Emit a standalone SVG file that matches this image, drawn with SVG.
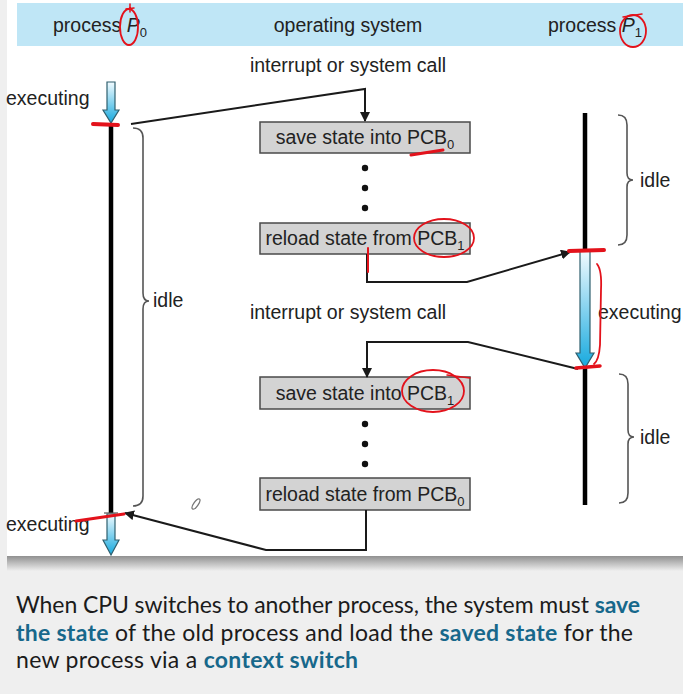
<svg xmlns="http://www.w3.org/2000/svg" width="683" height="694" viewBox="0 0 683 694">
  <style>
    .lbl { font-family: "Liberation Sans", Arial, sans-serif; font-size: 19.5px; fill: #222; }
    .sub { font-size: 13px; }
    .box rect { fill: #d3d3d3; stroke: #4a4a4a; stroke-width: 1.5; }
    .conn { fill: none; stroke: #1a1a1a; stroke-width: 2; }
    .brace { fill: none; stroke: #555; stroke-width: 1.6; }
    .timeline { stroke: #000; stroke-width: 4.5; }
    .run { fill: url(#runGrad); stroke: #2f5f6e; stroke-width: 1.2; }
    .dot { fill: #111; }
    .ink { fill: none; stroke: #e3121b; stroke-linecap: round; stroke-linejoin: round; }
    .cap { font-family: Lato, "Open Sans", sans-serif; font-size: 23px; fill: #1b1b1b; }
    .hl { fill: #17688b; font-weight: bold; }
  </style>
  <defs>
    <linearGradient id="runGrad" x1="0" y1="0" x2="0" y2="1">
      <stop offset="0" stop-color="#f2fbff"/>
      <stop offset="1" stop-color="#16a9de"/>
    </linearGradient>
    <linearGradient id="shadow" x1="0" y1="0" x2="0" y2="1">
      <stop offset="0" stop-color="#8a8a8a"/>
      <stop offset="1" stop-color="#efefef"/>
    </linearGradient>
    <marker id="head" viewBox="0 0 10 10" refX="9" refY="5" markerWidth="10" markerHeight="10" markerUnits="userSpaceOnUse" orient="auto">
      <path d="M0,0 L10,5 L0,10 Z" fill="#1a1a1a"/>
    </marker>
  </defs>

  <!-- page and panel -->
  <rect x="0" y="0" width="683" height="694" fill="#efefef"/>
  <rect x="7" y="555" width="676" height="16" fill="url(#shadow)"/>
  <rect x="7" y="0" width="676" height="556" fill="#ffffff"/>
  <rect x="17" y="3" width="666" height="43" fill="#bfe6f6"/>

  <!-- column headings -->
  <g id="head-p0"><text class="lbl" x="53" y="32">process <tspan font-style="italic">P</tspan><tspan class="sub" dy="5">0</tspan></text></g>
  <g id="head-os"><text class="lbl" x="348" y="32" text-anchor="middle">operating system</text></g>
  <g id="head-p1"><text class="lbl" x="548" y="32">process <tspan font-style="italic">P</tspan><tspan class="sub" dy="5">1</tspan></text></g>

  <!-- process P0 timeline -->
  <g id="p0">
    <line class="timeline" x1="111" y1="123" x2="111" y2="513"/>
    <path class="run" d="M107,82 L115,82 L115,110 L119,110 L111,123 L103,110 L107,110 Z"/>
    <path class="run" d="M107,514 L115,514 L115,540 L119,540 L111,555 L103,540 L107,540 Z"/>
    <line x1="104" y1="513" x2="118" y2="513" stroke="#555" stroke-width="1.2"/>
    <text class="lbl" x="6" y="105">executing</text>
    <text class="lbl" x="6" y="531">executing</text>
    <path class="brace" d="M133,128 Q143,128 143,138 L143,293 Q143,301 149,301 Q143,301 143,309 L143,496 Q143,506 133,506"/>
    <text class="lbl" x="153" y="307">idle</text>
  </g>

  <!-- process P1 timeline -->
  <g id="p1">
    <line class="timeline" x1="585" y1="113" x2="585" y2="251"/>
    <line class="timeline" x1="585" y1="368" x2="585" y2="505"/>
    <path class="run" d="M580,251 L590,251 L590,353 L594,353 L585,368 L576,353 L580,353 Z"/>
    <path class="brace" d="M618,115 Q627,115 627,125 L627,173 Q627,180 633,180 Q627,180 627,187 L627,235 Q627,245 618,245"/>
    <text class="lbl" x="640" y="187">idle</text>
    <text class="lbl" x="598" y="319">executing</text>
    <path class="brace" d="M619,374 Q628,374 628,384 L628,430 Q628,437 634,437 Q628,437 628,444 L628,493 Q628,503 619,503"/>
    <text class="lbl" x="640" y="444">idle</text>
  </g>

  <!-- operating system steps -->
  <g id="os-call-1"><text class="lbl" x="348" y="72" text-anchor="middle">interrupt or system call</text></g>
  <g id="save-pcb0" class="box">
    <rect x="260" y="122" width="210" height="31"/>
    <text class="lbl" x="365" y="144" text-anchor="middle">save state into PCB<tspan class="sub" dy="5">0</tspan></text>
  </g>
  <g id="dots-1">
    <circle class="dot" cx="365" cy="168" r="3.2"/>
    <circle class="dot" cx="365" cy="188" r="3.2"/>
    <circle class="dot" cx="365" cy="208" r="3.2"/>
  </g>
  <g id="reload-pcb1" class="box">
    <rect x="260" y="223" width="210" height="31"/>
    <text class="lbl" x="365" y="245" text-anchor="middle">reload state from PCB<tspan class="sub" dy="5">1</tspan></text>
  </g>
  <g id="os-call-2"><text class="lbl" x="348" y="319" text-anchor="middle">interrupt or system call</text></g>
  <g id="save-pcb1" class="box">
    <rect x="260" y="377" width="210" height="32"/>
    <text class="lbl" x="365" y="400" text-anchor="middle">save state into PCB<tspan class="sub" dy="5">1</tspan></text>
  </g>
  <g id="dots-2">
    <circle class="dot" cx="365" cy="424" r="3.2"/>
    <circle class="dot" cx="365" cy="444" r="3.2"/>
    <circle class="dot" cx="365" cy="464" r="3.2"/>
  </g>
  <g id="reload-pcb0" class="box">
    <rect x="260" y="478" width="210" height="32"/>
    <text class="lbl" x="365" y="501" text-anchor="middle">reload state from PCB<tspan class="sub" dy="5">0</tspan></text>
  </g>

  <!-- control transfers -->
  <g id="connectors">
    <path class="conn" d="M131,124 L365,89 L365,121" marker-end="url(#head)"/>
    <path class="conn" d="M367,254 L367,282 L467,282 L570,252" marker-end="url(#head)"/>
    <path class="conn" d="M578,369 L468,342 L367,342 L367,377" marker-end="url(#head)"/>
    <path class="conn" d="M366,510 L366,550 L266,550 L125,513" marker-end="url(#head)"/>
  </g>

  <!-- hand-drawn red markings -->
  <g id="markings">
    <ellipse class="ink" cx="129" cy="27" rx="9" ry="18" stroke-width="1.8"/>
    <path class="ink" d="M126,9 L134,8 M130,4 L130,12" stroke-width="1.5"/>
    <ellipse class="ink" cx="633" cy="31" rx="13" ry="16" stroke-width="1.8"/>
    <path class="ink" d="M623,17 L642,14" stroke-width="1.5"/>
    <path class="ink" d="M411,155 L443,150" stroke-width="3"/>
    <ellipse class="ink" cx="444" cy="238" rx="30" ry="19" stroke-width="1.8"/>
    <path class="ink" d="M368,248 L368,272" stroke-width="2"/>
    <ellipse class="ink" cx="433" cy="391" rx="31" ry="21" stroke-width="1.8"/>
    <path class="ink" d="M447,375 L470,378" stroke-width="1.5"/>
    <path class="ink" d="M93,124 L118,125" stroke-width="4"/>
    <path class="ink" d="M569,251 L604,250" stroke-width="4"/>
    <path class="ink" d="M597,264 Q602,270 601,290 L600,345 Q599,360 594,364" stroke-width="1.8"/>
    <path class="ink" d="M576,368 L600,366" stroke-width="3.5"/>
    <path class="ink" d="M76,521 L124,514" stroke-width="3"/>
  </g>

  <!-- pointer -->
  <ellipse cx="196" cy="504" rx="2.2" ry="6" transform="rotate(35 196 504)" fill="none" stroke="#777" stroke-width="1.3"/>

  <!-- caption -->
  <g id="caption">
    <text class="cap" x="16" y="613" textLength="624" lengthAdjust="spacing">When CPU switches to another process, the system must <tspan class="hl">save</tspan></text>
    <text class="cap" x="16" y="641" textLength="617" lengthAdjust="spacing"><tspan class="hl">the state</tspan> of the old process and load the <tspan class="hl">saved state</tspan> for the</text>
    <text class="cap" x="16" y="668" textLength="342" lengthAdjust="spacing">new process via a <tspan class="hl">context switch</tspan></text>
  </g>
</svg>
